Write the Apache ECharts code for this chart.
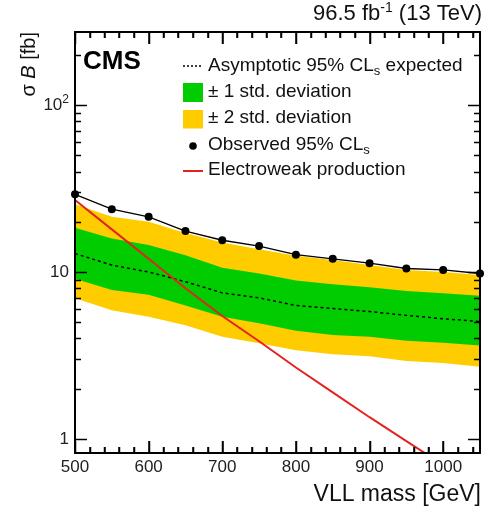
<!DOCTYPE html>
<html><head><meta charset="utf-8">
<script src="https://cdn.jsdelivr.net/npm/echarts@6/dist/echarts.min.js"></script>
<style>html,body{margin:0;padding:0;background:#fff}#c{width:490px;height:508px}</style>
</head><body><div id="c"></div>
<script>
const masses = [500,550,600,650,700,750,800,850,900,950,1000,1050];
const expected = [12.9,11.0,10.0,8.75,7.5,7.0,6.3,6.05,5.8,5.5,5.25,5.05];
const sigma1Up = [18.4,15.9,14.5,12.6,10.6,9.8,8.9,8.45,8.1,7.7,7.45,7.2];
const sigma1Down = [9.1,7.8,7.3,6.3,5.4,4.93,4.45,4.2,4.1,3.88,3.77,3.63];
const sigma2Up = [25.5,21.4,20.0,17.1,15.0,13.7,12.5,11.8,11.0,10.3,10.0,9.6];
const sigma2Down = [6.96,5.9,5.4,4.8,4.1,3.75,3.4,3.22,3.13,2.93,2.85,2.71];
const observed = [29.2,23.8,21.4,17.6,15.5,14.3,12.7,12.0,11.3,10.5,10.3,9.8];
const electroweak = [27.0,18.0,12.0,8.0,5.45,3.85,2.68,1.9,1.35,0.97,0.70,0.50];
const xTickLabels = [500,600,700,800,900,1000];
const xMinorTicks = [520,540,560,580,620,640,660,680,720,740,760,780,820,840,860,880,920,940,960,980,1020,1040];
const yMajorTicks = [1,10,100];
const yMinorTicks = [2,3,4,5,6,7,8,9,20,30,40,50,60,70,80,90,200];

const FONT = 'Liberation Sans, Arial, Helvetica, sans-serif';
const X_MIN = 500, X_MAX = 1050, Y_MIN = 0.824, Y_MAX = 274;
const pairs = arr => masses.map((m,i)=>[m, arr[i]]);

const chart = echarts.init(document.getElementById('c'));

function xAxisDef(pos, showLabel){
  return {
    type:'value', position:pos, min:X_MIN, max:X_MAX, interval:100, z:10,
    axisLine:{show:true, onZero:false, lineStyle:{color:'#000', width:2}},
    axisTick:{show:true, inside:true, length:12, lineStyle:{color:'#000', width:1.5}},
    minorTick:{show:true, splitNumber:5, length:6, lineStyle:{color:'#000', width:1.5}},
    splitLine:{show:false}, minorSplitLine:{show:false},
    axisLabel:{show:showLabel, color:'#222', fontFamily:FONT, fontSize:17, margin:6,
      formatter: v => xTickLabels.indexOf(Math.round(v))>=0 ? String(Math.round(v)) : ''}
  };
}
function yAxisDef(pos, showLabel){
  return {
    type:'log', logBase:10, position:pos, min:Y_MIN, max:Y_MAX, z:10,
    axisLine:{show:true, onZero:false, lineStyle:{color:'#000', width:2}},
    axisTick:{show:false}, splitLine:{show:false},
    axisLabel:{show:showLabel, customValues: yMajorTicks, margin:6, color:'#222', fontFamily:FONT, fontSize:17,
      formatter: v => { const r=Math.round(v); return r===100 ? '{b|10}{sup|2}' : (r===10 ? '{b|10}' : (r===1 ? '{b|1}' : '')); },
      rich:{ b:{fontFamily:FONT, fontSize:17, color:'#222', lineHeight:22},
             sup:{fontFamily:FONT, fontSize:12, color:'#222', lineHeight:12, verticalAlign:'top'} } }
  };
}

function bandSeries(down, up, color){
  return {
    type:'custom', clip:true, silent:true, z:1,
    data: masses.map((m,i)=>[m, down[i], up[i]]),
    encode:{x:0, y:[1,2]},
    renderItem:(params, api) => {
      if (params.dataIndex !== 0) return null;
      const n = params.dataInsideLength;
      const pts = [];
      for (let i=0;i<n;i++) pts.push(api.coord([api.value(0,i), api.value(2,i)]));
      for (let i=n-1;i>=0;i--) pts.push(api.coord([api.value(0,i), api.value(1,i)]));
      return {type:'polygon', shape:{points:pts}, style:{fill:color, stroke:null}};
    }
  };
}
// Inward ROOT-style ticks on all four frame sides, positioned through the axes' scales.
function frameEdges(api){
  const bl = api.coord([X_MIN, Y_MIN]);
  const tr = api.coord([X_MAX, Y_MAX]);
  return {left:bl[0], bottom:bl[1], right:tr[0], top:tr[1]};
}
function xTickSeries(values, len){
  return {
    type:'custom', silent:true, clip:false, z:9,
    data: values.map(v=>[v, 1]), encode:{x:0, y:1},
    renderItem:(params, api) => {
      const e = frameEdges(api);
      const x = Math.round(api.coord([api.value(0), 1])[0]) + 0.5;
      return {type:'group', children:[
        {type:'line', shape:{x1:x, y1:e.bottom, x2:x, y2:e.bottom-len}, style:{stroke:'#000', lineWidth:1.5}},
        {type:'line', shape:{x1:x, y1:e.top, x2:x, y2:e.top+len}, style:{stroke:'#000', lineWidth:1.5}}
      ]};
    }
  };
}
function yTickSeries(values, len){
  return {
    type:'custom', silent:true, clip:false, z:9,
    data: values.map(v=>[X_MIN, v]), encode:{x:0, y:1},
    renderItem:(params, api) => {
      const e = frameEdges(api);
      const y = Math.round(api.coord([X_MIN, api.value(1)])[1]) + 0.5;
      return {type:'group', children:[
        {type:'line', shape:{x1:e.left, y1:y, x2:e.left+len, y2:y}, style:{stroke:'#000', lineWidth:1.5}},
        {type:'line', shape:{x1:e.right, y1:y, x2:e.right-len, y2:y}, style:{stroke:'#000', lineWidth:1.5}}
      ]};
    }
  };
}

const legendRich = {
  n:{fontFamily:FONT, fontSize:19, fill:'#111', lineHeight:24},
  s:{fontFamily:FONT, fontSize:13, fill:'#111', lineHeight:13, verticalAlign:'bottom'}
};

chart.setOption({
  animation:false,
  grid:{left:75, right:10, top:32, bottom:55},
  xAxis:[xAxisDef('bottom', true), xAxisDef('top', false)],
  yAxis:[yAxisDef('left', true), yAxisDef('right', false)],
  series:[
    bandSeries(sigma2Down, sigma2Up, '#ffcc00'),
    bandSeries(sigma1Down, sigma1Up, '#00cc00'),
    {type:'line', name:'expected', data:pairs(expected), symbol:'none', z:3,
      lineStyle:{color:'#000', width:1.5, type:[3,3]}},
    {type:'line', name:'ew', data:pairs(electroweak), symbol:'none', clip:true, z:4,
      lineStyle:{color:'#e3231f', width:2}},
    {type:'line', name:'observed', data:pairs(observed), symbol:'circle', symbolSize:8, z:5,
      itemStyle:{color:'#000'}, lineStyle:{color:'#000', width:1.3}},
    xTickSeries(xTickLabels, 12),
    xTickSeries(xMinorTicks, 6),
    yTickSeries(yMajorTicks, 12),
    yTickSeries(yMinorTicks, 6)
  ],
  graphic:[
    {type:'text', x:482, y:14, style:{text:'{n|96.5 fb}{sup|-1}{n| (13 TeV)}', align:'right', verticalAlign:'middle',
      rich:{n:{fontFamily:FONT, fontSize:22, fill:'#111', lineHeight:26}, sup:{fontFamily:FONT, fontSize:14, fill:'#111', lineHeight:14, verticalAlign:'top'}}}},
    {type:'text', x:29, y:32, rotation:Math.PI/2, style:{text:'{n|σ }{i|B}{n| [fb]}', align:'right', verticalAlign:'middle',
      rich:{n:{fontFamily:FONT, fontSize:20, fill:'#111'}, i:{fontFamily:FONT, fontSize:20, fontStyle:'italic', fill:'#111'}}}},
    {type:'text', x:481, y:495, style:{text:'VLL mass [GeV]', font:'23px '+FONT, fill:'#111', align:'right', verticalAlign:'middle'}},
    {type:'text', x:83, y:62, style:{text:'CMS', font:'bold 26px '+FONT, fill:'#000', align:'left', verticalAlign:'middle'}},
    {type:'line', shape:{x1:183, y1:66, x2:203, y2:66}, style:{stroke:'#000', lineWidth:1.5, lineDash:[2,2]}},
    {type:'text', x:208, y:66, style:{text:'{n|Asymptotic 95% CL}{s|s}{n| expected}', align:'left', verticalAlign:'middle', rich:legendRich}},
    {type:'rect', shape:{x:183, y:83, width:20, height:19}, style:{fill:'#00cc00'}},
    {type:'text', x:208, y:92, style:{text:'± 1 std. deviation', font:'19px '+FONT, fill:'#111', align:'left', verticalAlign:'middle'}},
    {type:'rect', shape:{x:183, y:110, width:20, height:18.5}, style:{fill:'#ffcc00'}},
    {type:'text', x:208, y:118, style:{text:'± 2 std. deviation', font:'19px '+FONT, fill:'#111', align:'left', verticalAlign:'middle'}},
    {type:'circle', shape:{cx:193, cy:146, r:3.8}, style:{fill:'#000'}},
    {type:'text', x:208, y:145, style:{text:'{n|Observed 95% CL}{s|s}', align:'left', verticalAlign:'middle', rich:legendRich}},
    {type:'line', shape:{x1:183, y1:171, x2:203, y2:171}, style:{stroke:'#e3231f', lineWidth:2}},
    {type:'text', x:208, y:170, style:{text:'Electroweak production', font:'19px '+FONT, fill:'#111', align:'left', verticalAlign:'middle'}}
  ]
});
</script></body></html>
